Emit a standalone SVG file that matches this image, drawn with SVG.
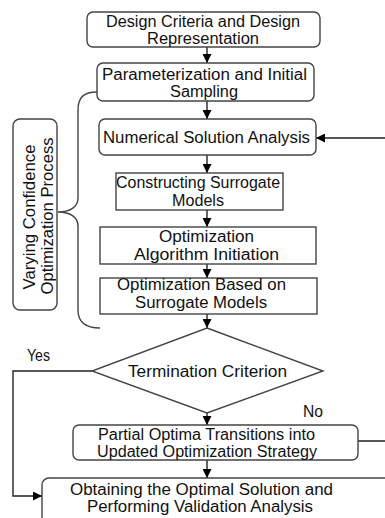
<svg xmlns="http://www.w3.org/2000/svg" width="385" height="518" viewBox="0 0 385 518">
<defs>
<marker id="ah" viewBox="0 0 10 10" refX="10" refY="5" markerWidth="9" markerHeight="9" markerUnits="userSpaceOnUse" orient="auto">
<path d="M0,0 L10,5 L0,10 z" fill="#000"/>
</marker>
<style>
.box{fill:#fff;stroke:#444;stroke-width:1.4}
.ln{fill:none;stroke:#444;stroke-width:1.4}
.ar{fill:none;stroke:#222;stroke-width:1.4;marker-end:url(#ah)}
text{font-family:"Liberation Sans",Arial,sans-serif;font-size:16px;fill:#111;text-anchor:middle}
</style>
</defs>
<rect width="385" height="518" fill="#fff"/>
<g id="label">
<rect class="box" x="13" y="119" width="44" height="191" rx="7"/>
<text transform="translate(35,217) rotate(-90)" textLength="145" lengthAdjust="spacingAndGlyphs">Varying Confidence</text>
<text transform="translate(53,216) rotate(-90)" textLength="157" lengthAdjust="spacingAndGlyphs">Optimization Process</text>
</g>
<g id="brace">
<path class="ln" d="M97,92 C84,92 78,97 78,110 L78,198 C78,207 70,212 58,212 C70,212 78,217 78,226 L78,310 C78,322 86,328 100,328"/>
</g>
<g id="connectors">
<path class="ar" d="M207,47 V63"/>
<path class="ar" d="M207,101 V119"/>
<path class="ar" d="M207,155 V173"/>
<path class="ar" d="M207,210 V227"/>
<path class="ar" d="M207,264 V278"/>
<path class="ar" d="M207,314 V328"/>
<path class="ar" d="M207,413 V425"/>
<path class="ar" d="M207,460 V478"/>
<path class="ar" d="M92,371 H13 V496 H42"/>
<path class="ar" d="M358,441 H392 V138 H316"/>
<text x="38.5" y="361" textLength="23" lengthAdjust="spacingAndGlyphs">Yes</text>
<text x="313" y="417" textLength="20" lengthAdjust="spacingAndGlyphs">No</text>
</g>
<g id="n1">
<rect class="box" x="87" y="12" width="233" height="35" rx="6"/>
<text x="203" y="27" textLength="194" lengthAdjust="spacingAndGlyphs">Design Criteria and Design</text>
<text x="203" y="44" textLength="112" lengthAdjust="spacingAndGlyphs">Representation</text>
</g>
<g id="n2">
<rect class="box" x="97" y="63" width="217" height="38" rx="6"/>
<text x="204.5" y="80" textLength="205" lengthAdjust="spacingAndGlyphs">Parameterization and Initial</text>
<text x="204" y="97" textLength="68" lengthAdjust="spacingAndGlyphs">Sampling</text>
</g>
<g id="n3">
<rect class="box" x="99" y="119" width="217" height="36" rx="6"/>
<text x="206.5" y="143" textLength="207" lengthAdjust="spacingAndGlyphs">Numerical Solution Analysis</text>
</g>
<g id="n4">
<rect class="box" x="116" y="173" width="167" height="37"/>
<text x="198" y="188" textLength="164" lengthAdjust="spacingAndGlyphs">Constructing Surrogate</text>
<text x="198" y="206" textLength="52" lengthAdjust="spacingAndGlyphs">Models</text>
</g>
<g id="n5">
<rect class="box" x="100" y="227" width="216" height="37"/>
<text x="206.5" y="242" textLength="95" lengthAdjust="spacingAndGlyphs">Optimization</text>
<text x="206.5" y="260" textLength="145" lengthAdjust="spacingAndGlyphs">Algorithm Initiation</text>
</g>
<g id="n6">
<rect class="box" x="100" y="278" width="217" height="36"/>
<text x="201.5" y="290" textLength="169" lengthAdjust="spacingAndGlyphs">Optimization Based on</text>
<text x="201" y="308" textLength="132" lengthAdjust="spacingAndGlyphs">Surrogate Models</text>
</g>
<g id="n7">
<polygon class="box" points="207,328 323,371 207,413 92,371"/>
<text x="207.5" y="377" textLength="159" lengthAdjust="spacingAndGlyphs">Termination Criterion</text>
</g>
<g id="n8">
<rect class="box" x="73" y="425" width="285" height="35" rx="6"/>
<text x="206.5" y="440" textLength="217" lengthAdjust="spacingAndGlyphs">Partial Optima Transitions into</text>
<text x="207" y="457" textLength="220" lengthAdjust="spacingAndGlyphs">Updated Optimization Strategy</text>
</g>
<g id="n9">
<rect class="box" x="42" y="478" width="360" height="60" rx="7"/>
<text x="201.5" y="495" textLength="263" lengthAdjust="spacingAndGlyphs">Obtaining the Optimal Solution and</text>
<text x="200" y="512" textLength="226" lengthAdjust="spacingAndGlyphs">Performing Validation Analysis</text>
</g>
</svg>
